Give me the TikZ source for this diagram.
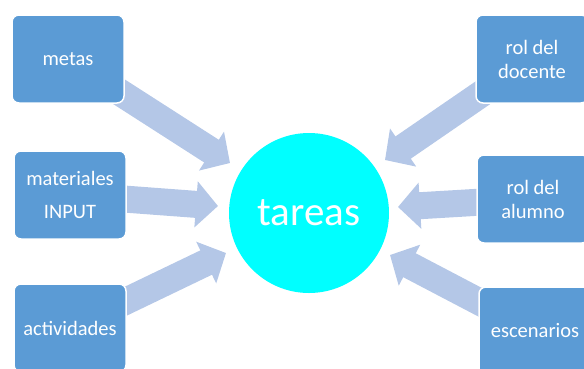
\documentclass[tikz,border=0pt]{standalone}
\usepackage{fontspec}
\setmainfont{Carlito}
\usetikzlibrary{arrows.meta,backgrounds}
\definecolor{boxblue}{HTML}{5B9BD5}
\definecolor{arrowblue}{HTML}{B4C7E7}
\definecolor{circcyan}{HTML}{00FFFF}
\tikzset{
  box/.style={rectangle, rounded corners=7pt, fill=boxblue, draw=white, line width=1.5pt,
    minimum width=112pt, minimum height=88pt, inner sep=0pt, align=center, text=white,
    font=\fontsize{20.5}{24}\selectfont},
  blockarrow/.style={draw=arrowblue, line width=27pt, -{Triangle[width=45pt,length=22pt,color=arrowblue]}},
  hub/.style={circle, fill=circcyan, minimum size=160pt, inner sep=0pt}
}
\begin{document}
\begin{tikzpicture}[x=1pt,y=-1pt]
\useasboundingbox (0,0) rectangle (584,368);
\clip (0,0) rectangle (584,368);
\node[hub] (tareas) at (309,213) {};
\node[anchor=base, text=white, font=\fontsize{41}{48}\selectfont] (tlabel) at (309,225) {tareas};
\node[box] (metas) at (68,59) {metas};
\node[box] (materiales) at (70,195) {materiales\\[9pt]INPUT};
\node[box] (actividades) at (70,328) {actividades};
\node[box] (docente) at (532,59) {rol del\\docente};
\node[box] (alumno) at (533,199) {rol del\\alumno};
\node[box] (escenarios) at (535,331) {escenarios};
\coordinate (t1) at (230,163);
\coordinate (t2) at (218,206);
\coordinate (t3) at (226,253);
\coordinate (t4) at (385,160);
\coordinate (t5) at (398,207);
\coordinate (t6) at (390,255);
\begin{scope}[on background layer]
\draw[blockarrow] (metas.center) -- (t1);
\draw[blockarrow] (materiales.center) -- (t2);
\draw[blockarrow] (actividades.center) -- (t3);
\draw[blockarrow] (docente.center) -- (t4);
\draw[blockarrow] (alumno.center) -- (t5);
\draw[blockarrow] (escenarios.center) -- (t6);
\end{scope}
\end{tikzpicture}
\end{document}
